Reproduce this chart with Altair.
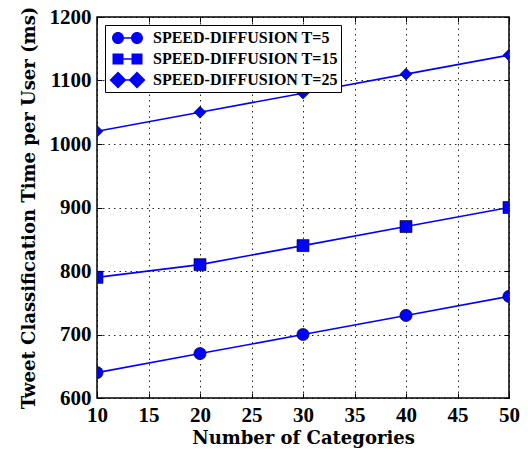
import altair as alt
import pandas as pd

categories = [10, 20, 30, 40, 50]
t5_values = [640, 670, 700, 730, 760]
t15_values = [790, 810, 840, 870, 900]
t25_values = [1020, 1050, 1080, 1110, 1140]
series_names = ["SPEED-DIFFUSION T=5", "SPEED-DIFFUSION T=15", "SPEED-DIFFUSION T=25"]
x_ticks = [10, 15, 20, 25, 30, 35, 40, 45, 50]
y_ticks = [600, 700, 800, 900, 1000, 1100, 1200]

rows = []
for name, vals in zip(series_names, [t5_values, t15_values, t25_values]):
    for c, v in zip(categories, vals):
        rows.append({"cat": c, "time": v, "series": name})
df = pd.DataFrame(rows)

W, H = 412, 381
FONT = "Liberation Serif"
TFONT = "DejaVu Serif"
BLUE = "#0000ff"

xs = alt.Scale(domain=[10, 50], nice=False, zero=False)
ys = alt.Scale(domain=[600, 1200], nice=False, zero=False)

tick_axis = dict(labels=False, title=None, grid=False, domain=False, ticks=True,
                 tickSize=5, tickColor="black", tickWidth=1)

base = alt.Chart(df)

lines = base.mark_line(color=BLUE, strokeWidth=1.6, clip=True).encode(
    x=alt.X("cat:Q", scale=xs, axis=alt.Axis(
        orient="bottom", values=x_ticks, title="Number of Categories", format="d",
        grid=True, gridColor="black", gridDash=[1.5, 4], gridWidth=1, gridOpacity=0.85,
        ticks=False, tickSize=0, domain=False, labelFlush=False, labelOverlap=False,
        labelFont=FONT, labelFontWeight="bold", labelFontSize=21, labelColor="black",
        labelPadding=6, titleFont=TFONT, titleFontWeight="bold", titleFontSize=18,
        titleColor="black", titlePadding=4)),
    y=alt.Y("time:Q", scale=ys, axis=alt.Axis(
        orient="left", values=y_ticks, title="Tweet Classification Time per User (ms)",
        format="d",
        grid=True, gridColor="black", gridDash=[1.5, 4], gridWidth=1, gridOpacity=0.85,
        ticks=False, tickSize=0, domain=False, labelFlush=False, labelOverlap=False,
        labelFont=FONT, labelFontWeight="bold", labelFontSize=21, labelColor="black",
        labelPadding=6, titleFont=TFONT, titleFontWeight="bold", titleFontSize=18,
        titleColor="black", titlePadding=11)),
    detail="series:N",
)

points = base.mark_point(filled=True, opacity=1, fill=BLUE, stroke="black",
                         strokeWidth=0.6, clip=True).encode(
    x=alt.X("cat:Q", scale=xs, axis=alt.Axis(orient="top", offset=-H, values=x_ticks, **tick_axis)),
    y=alt.Y("time:Q", scale=ys, axis=alt.Axis(orient="right", offset=-W, values=y_ticks, **tick_axis)),
    shape=alt.Shape("series:N", scale=alt.Scale(domain=series_names,
                    range=["circle", "square", "diamond"]), legend=None),
    size=alt.Size("series:N", scale=alt.Scale(domain=series_names,
                  range=[150, 140, 290]), legend=None),
)

p_circle = ("M-0.6,0A0.6,0.6,0,1,1,0.6,0A0.6,0.6,0,1,1,-0.6,0Z "
            "M1.3,0A0.6,0.6,0,1,1,2.5,0A0.6,0.6,0,1,1,1.3,0Z "
            "M0.55,-0.08L1.35,-0.08L1.35,0.08L0.55,0.08Z")
p_square = ("M-0.55,-0.55L0.55,-0.55L0.55,0.55L-0.55,0.55Z "
            "M1.35,-0.55L2.45,-0.55L2.45,0.55L1.35,0.55Z "
            "M0.5,-0.08L1.4,-0.08L1.4,0.08L0.5,0.08Z")
p_diamond = ("M-0.85,0L0,-0.85L0.85,0L0,0.85Z "
             "M1.05,0L1.9,-0.85L2.75,0L1.9,0.85Z "
             "M0.8,-0.08L1.1,-0.08L1.1,0.08L0.8,0.08Z")

legend_layer = base.transform_filter("false").mark_point(
    filled=True, opacity=1, fill=BLUE, strokeWidth=0).encode(
    x=alt.X("cat:Q", scale=xs, axis=alt.Axis(orient="bottom", offset=-H, values=x_ticks, **tick_axis)),
    y=alt.Y("time:Q", scale=ys, axis=alt.Axis(orient="left", offset=-W, values=y_ticks, **tick_axis)),
    shape=alt.Shape("series:N", scale=alt.Scale(domain=series_names,
                    range=[p_circle, p_square, p_diamond]),
                    legend=alt.Legend(orient="none", legendX=8, legendY=8, title=None,
                                      padding=3, strokeColor="black", fillColor="white",
                                      cornerRadius=0, symbolSize=400, symbolStrokeWidth=0,
                                      symbolFillColor=BLUE, symbolOpacity=1,
                                      labelFont=FONT, labelFontWeight="bold",
                                      labelFontSize=16, labelColor="black",
                                      labelOffset=25, rowPadding=3, labelLimit=400)),
)

chart = alt.layer(lines, points, legend_layer).resolve_scale(
    shape="independent"
).resolve_axis(x="independent", y="independent").properties(
    width=W, height=H,
    padding={"left": 97, "top": 17, "right": 19, "bottom": 55},
    autosize=alt.AutoSizeParams(type="none"),
    background="white",
).configure_view(stroke="black", strokeWidth=1.5)

chart.save("out.html", embed_options={"renderer": "svg", "actions": False})
